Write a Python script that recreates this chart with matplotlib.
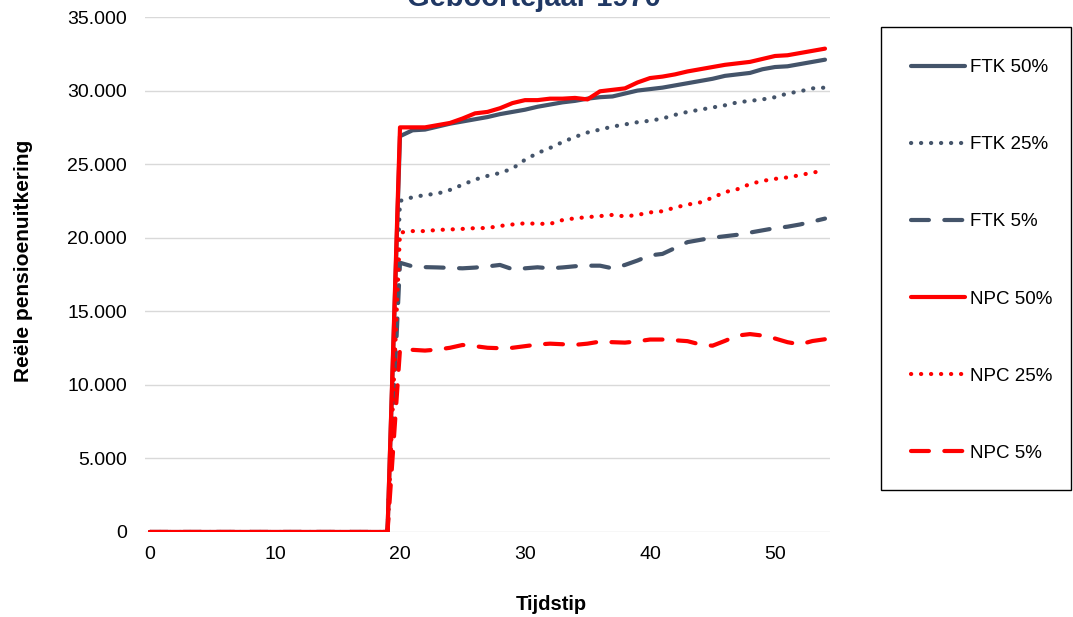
import matplotlib
matplotlib.use("Agg")
import matplotlib.pyplot as plt
from matplotlib.patches import Rectangle
from matplotlib.ticker import FuncFormatter, MultipleLocator

plt.rcParams['font.family'] = ['Liberation Sans', 'DejaVu Sans']

# tijdstip 0..54, geen uitkering voor t < 20
tijdstip = list(range(55))
voor_pensioen = [0, 0, 0, 0, 0, 0, 0, 0, 0, 0, 0, 0, 0, 0, 0, 0, 0, 0, 0, 0]

ftk_50 = voor_pensioen + [26900, 27300, 27350, 27550, 27750, 27900, 28050, 28200, 28400, 28550,
                          28700, 28900, 29050, 29200, 29300, 29450, 29550, 29600, 29800, 30000,
                          30100, 30200, 30350, 30500, 30650, 30800, 31000, 31100, 31200, 31450,
                          31600, 31650, 31800, 31950, 32100]
ftk_25 = voor_pensioen + [22500, 22750, 22900, 23000, 23250, 23600, 23950, 24200, 24400, 24700,
                          25300, 25750, 26100, 26500, 26850, 27150, 27350, 27550, 27700, 27850,
                          27950, 28100, 28350, 28550, 28700, 28850, 29000, 29200, 29300, 29400,
                          29550, 29800, 29950, 30150, 30200]
ftk_5 = voor_pensioen + [18300, 18050, 18000, 17980, 17950, 17920, 17970, 18050, 18150, 17860,
                         17920, 17990, 17920, 17980, 18060, 18100, 18100, 17920, 18150, 18450,
                         18800, 18900, 19300, 19700, 19850, 20000, 20100, 20200, 20350, 20500,
                         20650, 20750, 20900, 21100, 21300]
npc_50 = voor_pensioen + [27500, 27500, 27500, 27650, 27800, 28100, 28450, 28550, 28800, 29150,
                          29350, 29350, 29450, 29450, 29500, 29400, 29950, 30050, 30150, 30550,
                          30850, 30950, 31100, 31300, 31450, 31600, 31750, 31850, 31950, 32150,
                          32350, 32400, 32550, 32700, 32850]
npc_25 = voor_pensioen + [20350, 20450, 20450, 20530, 20560, 20600, 20650, 20660, 20800, 20900,
                          20980, 20950, 20940, 21200, 21320, 21400, 21470, 21550, 21450, 21550,
                          21720, 21800, 22050, 22250, 22400, 22720, 23100, 23300, 23650, 23860,
                          24000, 24100, 24250, 24430, 24550]
npc_5 = voor_pensioen + [12420, 12380, 12330, 12400, 12520, 12710, 12630, 12520, 12490, 12520,
                         12630, 12740, 12800, 12760, 12720, 12800, 12940, 12900, 12870, 12960,
                         13080, 13080, 13030, 12970, 12750, 12660, 12990, 13350, 13450, 13350,
                         13150, 12900, 12750, 12980, 13100]

grijs = '#44546A'
rood = '#FF0000'
lw = 3.0

fig = plt.figure(figsize=(10.73, 6.17), dpi=100)
ax = fig.add_axes([145 / 1073, 1 - 532 / 617, 685 / 1073, 515 / 617])

ax.plot(tijdstip, ftk_50, color=grijs, lw=lw, label='FTK 50%', solid_capstyle='round')
ax.plot(tijdstip, ftk_25, color=grijs, lw=lw, label='FTK 25%', dashes=(0.05, 2.35),
        dash_capstyle='round')
ax.plot(tijdstip, ftk_5, color=grijs, lw=lw, label='FTK 5%', dashes=(4.3, 3.7),
        dash_capstyle='round')
ax.plot(tijdstip, npc_50, color=rood, lw=lw, label='NPC 50%', solid_capstyle='round')
ax.plot(tijdstip, npc_25, color=rood, lw=lw, label='NPC 25%', dashes=(0.05, 2.35),
        dash_capstyle='round')
ax.plot(tijdstip, npc_5, color=rood, lw=lw, label='NPC 5%', dashes=(4.3, 3.7),
        dash_capstyle='round')

ax.set_xlim(-0.4, 54.4)
ax.set_ylim(0, 35000)
ax.xaxis.set_major_locator(MultipleLocator(10))
ax.yaxis.set_major_locator(MultipleLocator(5000))
ax.yaxis.set_major_formatter(FuncFormatter(lambda v, p: f"{int(v):,}".replace(',', '.')))
ax.grid(axis='y', color='#D9D9D9', lw=1)
ax.set_axisbelow(True)
for s in ax.spines.values():
    s.set_visible(False)
ax.tick_params(length=0, labelsize=14, colors='black')
ax.tick_params(axis='x', pad=10)
ax.tick_params(axis='y', pad=13)

fig.text(534 / 1073, 1 - 6 / 617, 'Geboortejaar 1970', ha='center', va='baseline',
         fontsize=21, weight='bold', color='#203864')
fig.text(551 / 1073, 1 - 605 / 617, 'Tijdstip', ha='center', va='center',
         fontsize=14.5, weight='bold')
fig.text(24 / 1073, 1 - 261 / 617, 'Reële pensioenuitkering', ha='center', va='center',
         rotation=90, fontsize=15, weight='bold')

# legendakader apart getekend
fig.patches.append(Rectangle((881 / 1073, 1 - 490 / 617), 190 / 1073, 463 / 617,
                             transform=fig.transFigure, fill=False, edgecolor='black', lw=1))
leg = ax.legend(loc='upper left', bbox_to_anchor=(911 / 1073, 1 - 59 / 617),
                bbox_transform=fig.transFigure, fontsize=13.5, frameon=False,
                borderpad=0, labelspacing=3.2, handlelength=2.9,
                handletextpad=0.25, borderaxespad=0)

fig.savefig('out.png', dpi=100)
